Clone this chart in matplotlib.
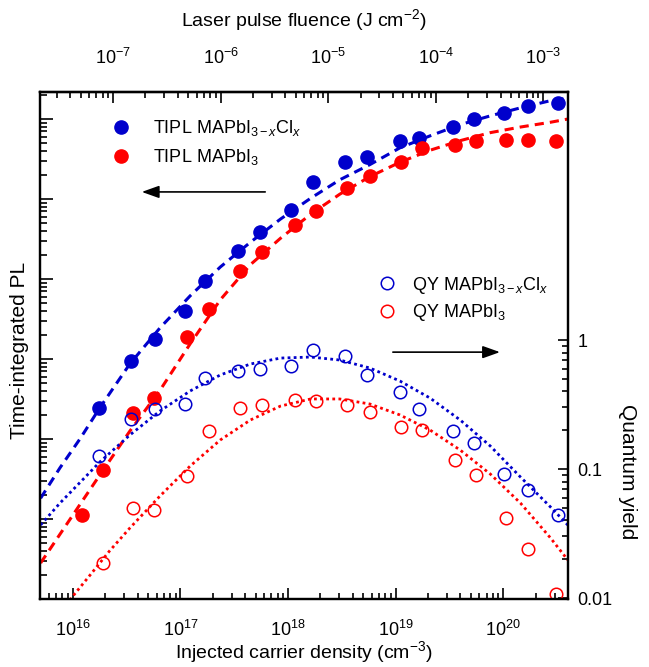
import numpy as np
import matplotlib
matplotlib.use('Agg')
import matplotlib.pyplot as plt
from matplotlib.lines import Line2D
from matplotlib.ticker import (LogLocator, NullFormatter, FixedLocator, FixedFormatter,
                               LogFormatterSciNotation)

plt.rcParams['font.family'] = ['Liberation Sans', 'DejaVu Sans']
plt.rcParams['font.size'] = 13
plt.rcParams['mathtext.fontset'] = 'custom'
plt.rcParams['mathtext.rm'] = 'Liberation Sans'
plt.rcParams['mathtext.it'] = 'Liberation Sans:italic'

BLUE = '#0000cc'
RED = '#ff0000'

# injected carrier density (cm^-3) for the MAPbI3-xClx film
n_blue = [1.75e16, 3.5e16, 5.8e16, 1.1e17, 1.7e17, 3.4e17, 5.5e17, 1.07e18, 1.7e18,
          3.4e18, 5.4e18, 1.1e19, 1.66e19, 3.4e19, 5.3e19, 1.02e20, 1.7e20, 3.25e20]
tipl_blue = [245, 944, 1780, 3980, 9440, 22400, 38900, 72400, 162000, 288000, 335000,
             531000, 575000, 794000, 1.0e6, 1.19e6, 1.45e6, 1.59e6]
qy_blue = [0.126, 0.244, 0.292, 0.319, 0.507, 0.575, 0.596, 0.629, 0.836, 0.751, 0.536,
           0.396, 0.292, 0.197, 0.159, 0.0915, 0.0688, 0.044]

# MAPbI3 film
n_red = [1.21e16, 1.9e16, 3.6e16, 5.7e16, 1.15e17, 1.84e17, 3.6e17, 5.7e17, 1.16e18,
         1.82e18, 3.5e18, 5.8e18, 1.12e19, 1.77e19, 3.6e19, 5.6e19, 1.07e20, 1.71e20, 3.1e20]
tipl_red = [11.2, 40.7, 211, 324, 1880, 4220, 12600, 21900, 47300, 70800, 138000,
            195000, 288000, 437000, 473000, 531000, 550000, 550000, 531000]
n_red_qy = n_red[1:]
qy_red = [0.0187, 0.0499, 0.0481, 0.0883, 0.197, 0.297, 0.313, 0.343, 0.337, 0.313,
          0.277, 0.212, 0.200, 0.1175, 0.0898, 0.0417, 0.024, 0.0107]

# model curves (log10 values)
fit_logn = [15.70, 15.88, 16.07, 16.25, 16.53, 16.81, 17.09, 17.37, 17.65, 17.93,
            18.21, 18.48, 18.76, 19.04, 19.32, 19.60, 19.88, 20.16, 20.44, 20.60]
fit_tipl_blue = [1.26, 1.64, 2.01, 2.39, 2.94, 3.39, 3.79, 4.15, 4.46, 4.75,
                 5.01, 5.24, 5.43, 5.64, 5.79, 5.93, 6.04, 6.14, 6.23, 6.26]
fit_tipl_red = [0.45, 0.81, 1.19, 1.55, 2.10, 2.61, 3.19, 3.74, 4.18, 4.51,
                4.81, 5.06, 5.28, 5.46, 5.61, 5.73, 5.83, 5.90, 5.96, 6.00]
fit_qy_blue = [-1.434, -1.264, -1.101, -0.946, -0.736, -0.550, -0.395, -0.271, -0.186, -0.140,
               -0.132, -0.155, -0.217, -0.318, -0.450, -0.620, -0.822, -1.062, -1.295, -1.434]
fit_logn_qy_red = [15.97, 16.16, 16.34, 16.53, 16.81, 17.09, 17.37, 17.65, 17.93, 18.21,
                   18.48, 18.76, 19.04, 19.32, 19.60, 19.88, 20.16, 20.44, 20.60]
fit_qy_red = [-2.016, -1.822, -1.636, -1.457, -1.209, -0.977, -0.775, -0.620, -0.512, -0.457,
              -0.457, -0.496, -0.581, -0.698, -0.853, -1.039, -1.264, -1.535, -1.705]

fluence_per_density = 4.24e-24  # J cm^-2 per cm^-3
fluence_ticks = [1e-7, 1e-6, 1e-5, 1e-4, 1e-3]

fig = plt.figure(figsize=(6.49, 6.67), dpi=100)
ax = fig.add_axes([0.0624, 0.1019, 0.8128, 0.7601])
ax2 = ax.twinx()

# TIPL (left axis)
ax.plot(10 ** np.array(fit_logn), 10 ** np.array(fit_tipl_blue), color=BLUE, lw=2.2, ls=(0, (3, 2)))
ax.plot(10 ** np.array(fit_logn), 10 ** np.array(fit_tipl_red), color=RED, lw=2.2, ls=(0, (3, 2)))
ax.plot(n_blue, tipl_blue, 'o', color=BLUE, ms=9.5, mec=BLUE)
ax.plot(n_red, tipl_red, 'o', color=RED, ms=9.5, mec=RED)

# quantum yield (right axis)
ax2.plot(10 ** np.array(fit_logn), 10 ** np.array(fit_qy_blue), color=BLUE, lw=2, ls=(0, (1, 1.2)))
ax2.plot(10 ** np.array(fit_logn_qy_red), 10 ** np.array(fit_qy_red), color=RED, lw=2, ls=(0, (1, 1.2)))
ax2.plot(n_blue, qy_blue, 'o', mfc='none', mec=BLUE, ms=9, mew=1.1)
ax2.plot(n_red_qy, qy_red, 'o', mfc='none', mec=RED, ms=9, mew=1.1)

ax.set_xscale('log')
ax.set_yscale('log')
ax2.set_yscale('log')
xmin, xmax = 5e15, 4.0e20
ax.set_xlim(xmin, xmax)
ax.set_ylim(1, 2.175e6)
ax2.set_ylim(0.00982, 83.6)

for a in (ax, ax2):
    for s in a.spines.values():
        s.set_linewidth(1.6)

ax.xaxis.set_major_locator(LogLocator(base=10))
ax.xaxis.set_minor_locator(LogLocator(base=10, subs=np.arange(2, 10)))
ax.xaxis.set_minor_formatter(NullFormatter())
ax.yaxis.set_major_locator(LogLocator(base=10))
ax.yaxis.set_minor_locator(LogLocator(base=10, subs=np.arange(2, 10), numticks=20))
ax.yaxis.set_major_formatter(NullFormatter())
ax.yaxis.set_minor_formatter(NullFormatter())
ax.tick_params(which='both', direction='in', top=False, right=False, width=1.2)
ax.tick_params(axis='y', which='major', length=9.5)
ax.tick_params(axis='y', which='minor', length=5)
ax.tick_params(axis='x', which='major', length=8, pad=15, labelsize=13)
ax.tick_params(axis='x', which='minor', length=4)

ax2.yaxis.set_major_locator(FixedLocator([0.01, 0.1, 1]))
ax2.yaxis.set_major_formatter(FixedFormatter(['0.01', '0.1', '1']))
ax2.yaxis.set_minor_locator(FixedLocator([m * d for d in (0.01, 0.1) for m in range(2, 10)]))
ax2.yaxis.set_minor_formatter(NullFormatter())
ax2.tick_params(which='both', direction='in', left=False, width=1.2, labelsize=13)
ax2.tick_params(axis='y', which='major', length=7.5, pad=7)
ax2.tick_params(axis='y', which='minor', length=4.5)

top = ax.secondary_xaxis('top', functions=(lambda n: n * fluence_per_density,
                                           lambda f: f / fluence_per_density))
fmin, fmax = xmin * fluence_per_density, xmax * fluence_per_density
top.xaxis.set_major_locator(FixedLocator(fluence_ticks))
top.xaxis.set_major_formatter(LogFormatterSciNotation())
top.xaxis.set_minor_locator(FixedLocator([m * 10.0 ** k for k in range(-8, -2) for m in range(2, 10)
                                          if fmin < m * 10.0 ** k < fmax]))
top.xaxis.set_minor_formatter(NullFormatter())
top.tick_params(which='both', direction='in', width=1.2, labelsize=13)
top.tick_params(which='major', length=8, pad=17)
top.tick_params(which='minor', length=4)
top.spines['top'].set_linewidth(1.6)

# legends
h1 = [Line2D([], [], ls='none', marker='o', color=BLUE, ms=9.5),
      Line2D([], [], ls='none', marker='o', color=RED, ms=9.5)]
leg1 = ax2.legend(h1, [r'TIPL MAPbI$_{3-x}$Cl$_x$', r'TIPL MAPbI$_3$'],
                  loc='center left', bbox_to_anchor=(0.135, 0.90), frameon=False,
                  handlelength=1.0, handletextpad=1.3, borderpad=0, borderaxespad=0,
                  labelspacing=0.5, fontsize=13)
ax2.add_artist(leg1)
h2 = [Line2D([], [], ls='none', marker='o', mfc='none', mec=BLUE, ms=9, mew=1.1),
      Line2D([], [], ls='none', marker='o', mfc='none', mec=RED, ms=9, mew=1.1)]
ax2.legend(h2, [r'QY MAPbI$_{3-x}$Cl$_x$', r'QY MAPbI$_3$'],
           loc='center left', bbox_to_anchor=(0.640, 0.592), frameon=False,
           handlelength=1.0, handletextpad=0.9, borderpad=0, borderaxespad=0,
           labelspacing=0.35, fontsize=13)

# arrows pointing to the relevant axis
arrow = dict(arrowstyle='-|>,head_length=0.7,head_width=0.25', color='k', lw=1.2,
             mutation_scale=15, shrinkA=0, shrinkB=0)
ax2.annotate('', xy=(0.192, 0.803), xytext=(0.426, 0.803), xycoords='axes fraction', arrowprops=arrow)
ax2.annotate('', xy=(0.871, 0.487), xytext=(0.668, 0.487), xycoords='axes fraction', arrowprops=arrow)

fig.text(20 / 649, 1 - 350 / 667, 'Time-integrated PL', rotation=90, ha='center', va='center', fontsize=15)
fig.text(627 / 649, 1 - 472 / 667, 'Quantum yield', rotation=270, ha='center', va='center', fontsize=15)
fig.text(304 / 649, 1 - 20 / 667, r'Laser pulse fluence (J cm$^{-2}$)', ha='center', va='center', fontsize=14)
fig.text(304 / 649, 1 - 652 / 667, r'Injected carrier density (cm$^{-3}$)', ha='center', va='center', fontsize=14)

fig.savefig('out.png', dpi=100)
